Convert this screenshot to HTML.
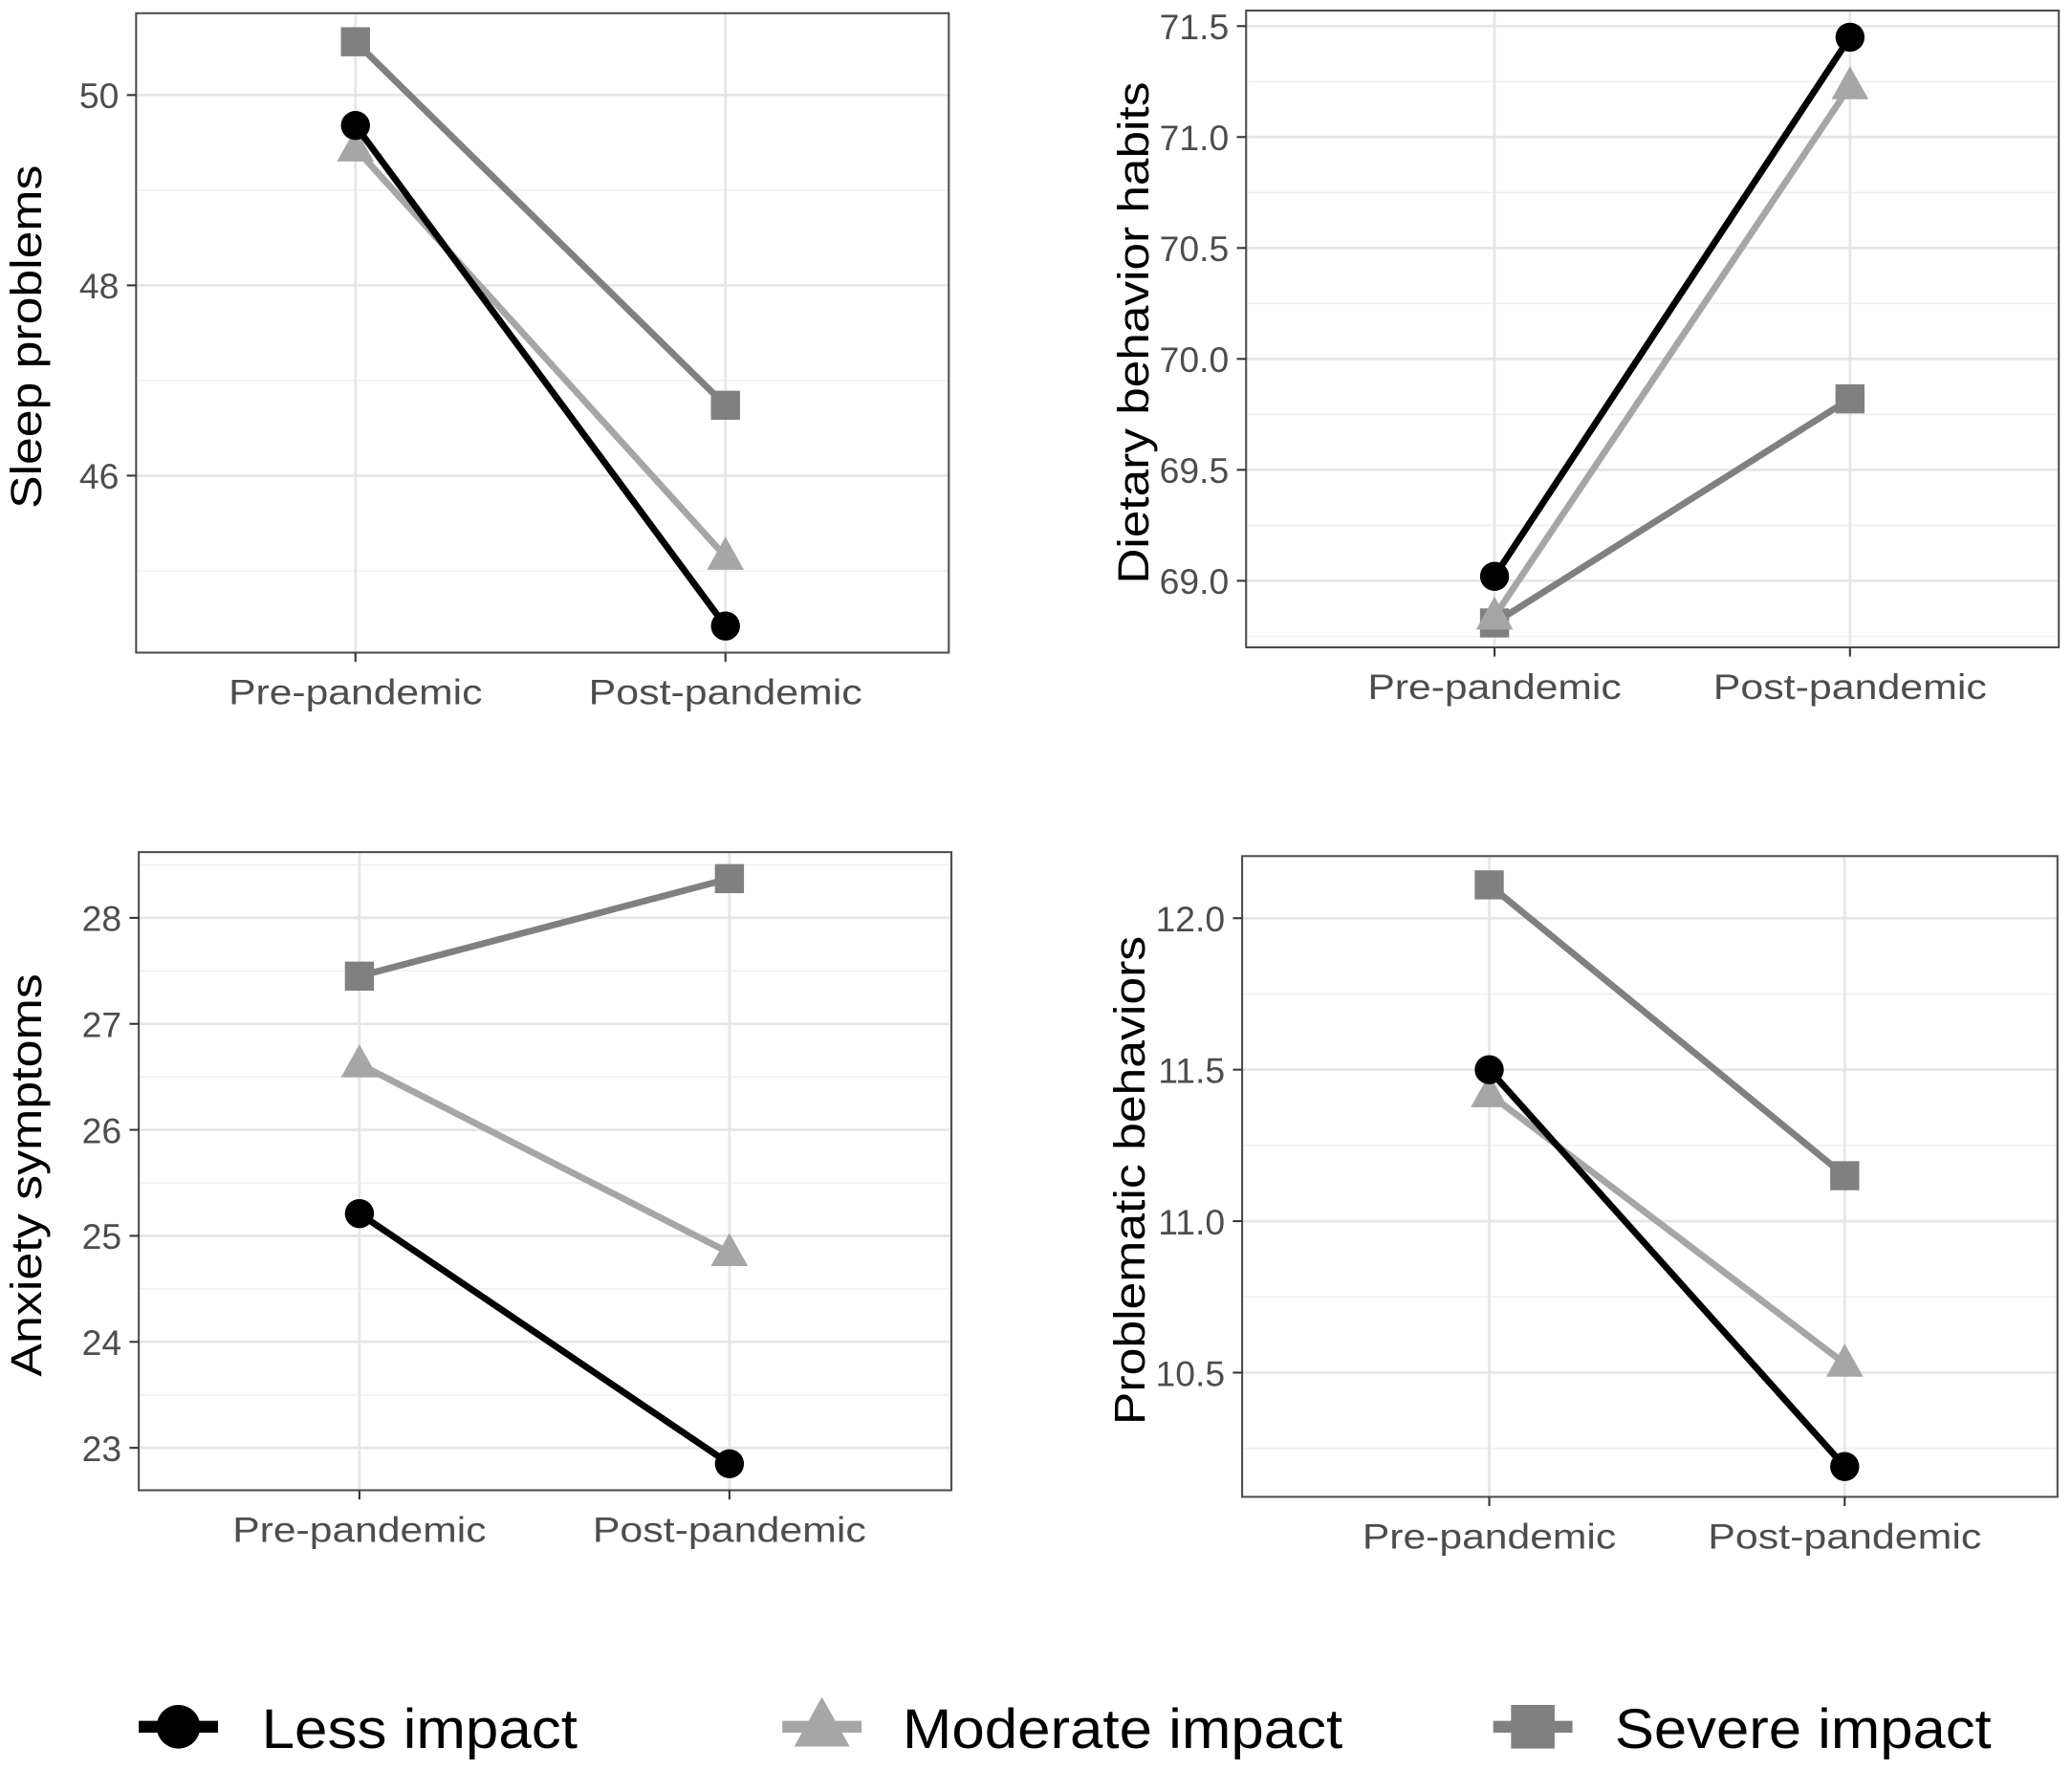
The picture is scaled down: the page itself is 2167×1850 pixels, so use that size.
<!DOCTYPE html>
<html><head><meta charset="utf-8"><style>
html,body{margin:0;padding:0;background:#fff}
svg{display:block}
text{font-family:"Liberation Sans",Arial,sans-serif}
</style></head><body>
<svg id="chart" width="2167" height="1850" viewBox="0 0 1568 1339" preserveAspectRatio="none" xmlns="http://www.w3.org/2000/svg"></svg>
<script>
const categories = ["Pre-pandemic", "Post-pandemic"];
const seriesNames = ["Less impact", "Moderate impact", "Severe impact"];
const sleepLess = [49.68, 44.42];
const sleepModerate = [49.44, 45.15];
const sleepSevere = [50.56, 46.74];
const dietLess = [69.02, 71.45];
const dietModerate = [68.84, 71.23];
const dietSevere = [68.81, 69.82];
const anxietyLess = [25.21, 22.85];
const anxietyModerate = [26.62, 24.84];
const anxietySevere = [27.45, 28.37];
const probLess = [11.50, 10.19];
const probModerate = [11.42, 10.53];
const probSevere = [12.11, 11.15];
const sleepTicks = [46, 48, 50];
const sleepMinor = [45, 47, 49];
const dietTicks = ["69.0", "69.5", "70.0", "70.5", "71.0", "71.5"];
const dietMinor = [68.75, 69.25, 69.75, 70.25, 70.75, 71.25];
const anxietyTicks = [23, 24, 25, 26, 27, 28];
const anxietyMinor = [22.5, 23.5, 24.5, 25.5, 26.5, 27.5, 28.5];
const probTicks = ["10.5", "11.0", "11.5", "12.0"];
const probMinor = [10.25, 10.75, 11.25, 11.75];

const NS = "http://www.w3.org/2000/svg";
const svg = document.getElementById("chart");
const colors = ["#000000", "#a6a6a6", "#808080"];
function mk(tag, attrs, parent) {
  const e = document.createElementNS(NS, tag);
  for (const k in attrs) e.setAttribute(k, attrs[k]);
  (parent || svg).appendChild(e);
  return e;
}
function marker(g, kind, cx, cy, color, s) {
  let m;
  if (kind === 0) m = mk("circle", {cx: cx, cy: cy, r: 11 * s, fill: color}, g);
  else if (kind === 1) m = mk("polygon", {points: `${cx},${cy - 15 * s} ${cx - 14 * s},${cy + 10 * s} ${cx + 14 * s},${cy + 10 * s}`, fill: color}, g);
  else m = mk("rect", {x: cx - 11 * s, y: cy - 11 * s, width: 22 * s, height: 22 * s, fill: color}, g);
  return m;
}
function panel(cfg) {
  const g = mk("g", {});
  
  
  const {L, R, T, B, xPre, xPost, ymin, ymax} = cfg;
  const ys = v => T + (ymax - v) / (ymax - ymin) * (B - T);
  const xs = i => i === 0 ? xPre : xPost;
  cfg.minor.forEach(v => { const y = ys(v); if (y > T && y < B) mk("line", {x1: L, x2: R, y1: y, y2: y, stroke: "#f0f0f0", "stroke-width": 1.2}, g); });
  cfg.ticks.forEach(v => mk("line", {x1: L, x2: R, y1: ys(+v), y2: ys(+v), stroke: "#e6e6e6", "stroke-width": 2}, g));
  categories.forEach((c, i) => mk("line", {x1: xs(i), x2: xs(i), y1: T, y2: B, stroke: "#e6e6e6", "stroke-width": 2}, g));
  const frame = mk("rect", {x: L, y: T, width: R - L, height: B - T, fill: "none", stroke: "#4d4d4d", "stroke-width": 1.5}, g);
  
  
  cfg.ticks.forEach(v => {
    const y = ys(+v);
    mk("line", {x1: L - 7, x2: L, y1: y, y2: y, stroke: "#333", "stroke-width": 1.5}, g);
    const t = mk("text", {x: L - 13, y: y + 10, "text-anchor": "end", "font-size": 27, fill: "#4d4d4d"}, g);
    t.textContent = v;
    
    
  });
  categories.forEach((c, i) => {
    mk("line", {x1: xs(i), x2: xs(i), y1: B, y2: B + 7, stroke: "#333", "stroke-width": 1.5}, g);
    const t = mk("text", {x: xs(i), y: B + 39, "text-anchor": "middle", "font-size": 27, fill: "#4d4d4d", textLength: i === 0 ? 192 : 207, lengthAdjust: "spacingAndGlyphs"}, g);
    t.textContent = c;
    
    
  });
  const yt = mk("text", {x: 0, y: 0, transform: `translate(${cfg.titleX},${(T + B) / 2 + 3}) rotate(-90)`, "text-anchor": "middle", "font-size": 33, fill: "#000", textLength: cfg.titleLen, lengthAdjust: "spacingAndGlyphs"}, g);
  yt.textContent = cfg.title;
  
  
  const order = [2, 1, 0];
  order.forEach(k => {
    const vals = cfg.series[k];
    const ln = mk("line", {x1: xs(0), y1: ys(vals[0]), x2: xs(1), y2: ys(vals[1]), stroke: colors[k], "stroke-width": 5}, g);
    
    
    vals.forEach((v, i) => {
      const m = marker(g, k, xs(i), ys(v), colors[k], 1);
      
      
    });
  });
}
panel({name: "sleep-panel", L: 103, R: 718, T: 10, B: 494, xPre: 269, xPost: 549, ymin: 44.14, ymax: 50.86,
  ticks: sleepTicks, minor: sleepMinor, title: "Sleep problems", titleLen: 260, titleX: 31, series: [sleepLess, sleepModerate, sleepSevere]});
panel({name: "diet-panel", L: 943, R: 1558, T: 8, B: 490, xPre: 1131, xPost: 1400, ymin: 68.70, ymax: 71.57,
  ticks: dietTicks, minor: dietMinor, title: "Dietary behavior habits", titleLen: 380, titleX: 869, series: [dietLess, dietModerate, dietSevere]});
panel({name: "anxiety-panel", L: 105, R: 720, T: 645, B: 1128, xPre: 272, xPost: 552, ymin: 22.60, ymax: 28.62,
  ticks: anxietyTicks, minor: anxietyMinor, title: "Anxiety symptoms", titleLen: 305, titleX: 31, series: [anxietyLess, anxietyModerate, anxietySevere]});
panel({name: "problematic-panel", L: 940, R: 1557, T: 648, B: 1133, xPre: 1127, xPost: 1396, ymin: 10.09, ymax: 12.205,
  ticks: probTicks, minor: probMinor, title: "Problematic behaviors", titleLen: 370, titleX: 866, series: [probLess, probModerate, probSevere]});

const legX = [105, 592, 1130];
const legTX = [198, 683, 1222];
const legW = [239, 333, 285];
seriesNames.forEach((n, k) => {
  const g = mk("g", {});
  
  
  const y = 1307;
  mk("line", {x1: legX[k], x2: legX[k] + 60, y1: y, y2: y, stroke: colors[k], "stroke-width": 9}, g);
  marker(g, k, legX[k] + 30, y, colors[k], 1.5);
  const t = mk("text", {x: legTX[k], y: y + 16, "font-size": 42, fill: "#000", textLength: legW[k], lengthAdjust: "spacingAndGlyphs"}, g);
  t.textContent = n;
});
</script>
</body></html>
